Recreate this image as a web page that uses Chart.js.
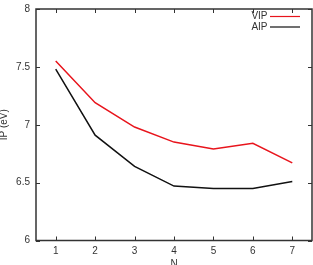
<!DOCTYPE html>
<html><head><meta charset="utf-8">
<script src="https://cdn.jsdelivr.net/npm/chart.js@4"></script>
<style>html,body{margin:0;padding:0;background:#fff}#wrap{width:313px;height:265px}</style>
</head><body><div id="wrap"><canvas id="c" width="313" height="265"></canvas></div>
<script>
const categories = [1, 2, 3, 4, 5, 6, 7];
const vipValues = [7.55, 7.19, 6.98, 6.85, 6.79, 6.84, 6.67];
const aipValues = [7.48, 6.91, 6.64, 6.47, 6.45, 6.45, 6.51];
const yTicks = [6, 6.5, 7, 7.5, 8];
const seriesLabels = ['VIP', 'AIP'];
const seriesColors = ['#e8141c', '#111111'];

const FONT = 'Liberation Sans, Arial, Helvetica, sans-serif';
const AX = '#333333';

const frame = {
  id: 'frame',
  afterDraw(chart) {
    const {ctx, chartArea: a, scales: {x, y}} = chart;
    ctx.save();
    ctx.strokeStyle = AX;
    ctx.lineWidth = 1.5;
    ctx.strokeRect(a.left, a.top, a.right - a.left, a.bottom - a.top);
    ctx.lineWidth = 1;
    const L = 4;
    ctx.beginPath();
    categories.forEach(v => {
      const px = Math.round(x.getPixelForValue(v)) + 0.5;
      ctx.moveTo(px, a.bottom); ctx.lineTo(px, a.bottom - L);
      ctx.moveTo(px, a.top); ctx.lineTo(px, a.top + L);
    });
    yTicks.forEach(v => {
      const py = Math.round(y.getPixelForValue(v)) + 0.5;
      ctx.moveTo(a.left, py); ctx.lineTo(a.left + L, py);
      ctx.moveTo(a.right, py); ctx.lineTo(a.right - L, py);
    });
    ctx.stroke();
    // legend
    ctx.font = '10px ' + FONT;
    ctx.textAlign = 'right';
    ctx.textBaseline = 'middle';
    chart.data.datasets.forEach((ds, i) => {
      const yy = 16.5 + i * 10.5;
      ctx.fillStyle = AX;
      ctx.fillText(ds.label, 267.5, yy);
      ctx.strokeStyle = ds.borderColor;
      ctx.lineWidth = 1.2;
      ctx.beginPath(); ctx.moveTo(270, yy); ctx.lineTo(300, yy); ctx.stroke();
    });
    ctx.restore();
  }
};

new Chart(document.getElementById('c'), {
  type: 'line',
  data: {
    datasets: [
      {label: seriesLabels[0], data: categories.map((c, i) => ({x: c, y: vipValues[i]})), borderColor: seriesColors[0], borderWidth: 1.5, pointRadius: 0, fill: false, tension: 0},
      {label: seriesLabels[1], data: categories.map((c, i) => ({x: c, y: aipValues[i]})), borderColor: seriesColors[1], borderWidth: 1.5, pointRadius: 0, fill: false, tension: 0}
    ]
  },
  options: {
    responsive: false,
    animation: false,
    devicePixelRatio: 1,
    layout: {padding: {top: 9, right: 1, left: 0, bottom: 0}},
    plugins: {legend: {display: false}, tooltip: {enabled: false}},
    scales: {
      x: {
        type: 'linear', min: 0.5, max: 7.5,
        afterBuildTicks: s => { s.ticks = categories.map(v => ({value: v})); },
        afterFit: s => { s.height = 24.5; s.paddingLeft = 0; s.paddingRight = 0; },
        grid: {display: false, drawTicks: false},
        border: {display: false},
        ticks: {padding: 5, color: AX, font: {family: FONT, size: 10}, maxRotation: 0},
        title: {display: true, text: 'N', color: AX, font: {family: FONT, size: 10}, padding: {top: 0, bottom: -5}}
      },
      y: {
        type: 'linear', min: 6, max: 8,
        afterBuildTicks: s => { s.ticks = yTicks.map(v => ({value: v})); },
        afterFit: s => { s.width = 36; s.paddingTop = 0; s.paddingBottom = 0; },
        grid: {display: false, drawTicks: false},
        border: {display: false},
        ticks: {padding: 6, color: AX, font: {family: FONT, size: 10}, callback: v => String(v)},
        title: {display: true, text: 'IP (eV)', color: AX, font: {family: FONT, size: 10}, padding: {top: -2, bottom: 0}}
      }
    }
  },
  plugins: [frame]
});
</script></body></html>
